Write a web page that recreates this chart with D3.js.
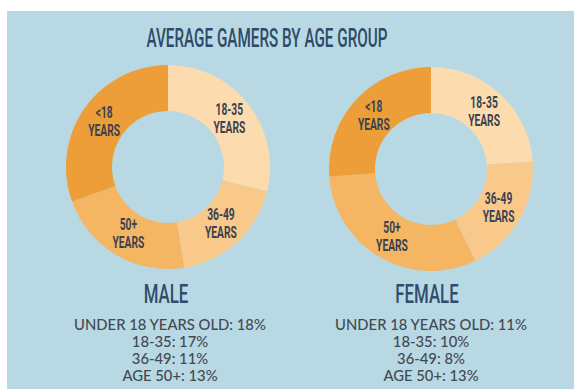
<!DOCTYPE html>
<html>
<head>
<meta charset="utf-8">
<script src="https://cdn.jsdelivr.net/npm/d3@7"></script>
<style>
  html, body { margin: 0; padding: 0; background: #ffffff; }
  svg { display: block; }
</style>
</head>
<body>
<svg id="chart" width="574" height="389"></svg>
<script>
// Age groups, drawn clockwise from 12 o'clock
const ageGroups = ["18-35", "36-49", "50+", "<18"];
const sliceLines = [["18-35", "YEARS"], ["36-49", "YEARS"], ["50+", "YEARS"], ["<18", "YEARS"]];
const maleValues = [17, 11, 13, 18];
const femaleValues = [10, 8, 13, 11];

const summaryLabels = ["UNDER 18 YEARS OLD", "18-35", "36-49", "AGE 50+"];
const summaryOrder = [3, 0, 1, 2]; // index into ageGroups for each summary line

const titleText = "AVERAGE GAMERS BY AGE GROUP";
const panels = [
  { name: "MALE", values: maleValues },
  { name: "FEMALE", values: femaleValues }
];

const W = 574, H = 389;
const svg = d3.select("#chart");

// background panel
svg.append("rect")
  .attr("x", 7).attr("y", 11)
  .attr("width", W - 7).attr("height", H - 11)
  .attr("fill", "#b8d9e4");

// title
svg.append("text")
  .attr("x", 267).attr("y", 47)
  .attr("text-anchor", "middle")
  .attr("font-family", "Roboto, 'DejaVu Sans', sans-serif")
  .attr("font-size", 26)
  .attr("font-weight", 500)
  .attr("fill", "#2f4a68")
  .attr("textLength", 241)
  .attr("lengthAdjust", "spacingAndGlyphs")
  .text(titleText);

const color = d3.scaleOrdinal()
  .domain(ageGroups)
  .range(["#fcdcae", "#f8c98a", "#f4b663", "#ee9e39"]);

const pie = d3.pie().sort(null).value(d => d.value);
const outerR = 102, innerR = 56, labelR = 78;
const arc = d3.arc().innerRadius(innerR).outerRadius(outerR);
const labelArc = d3.arc().innerRadius(labelR).outerRadius(labelR);

const centers = [{ x: 168, y: 167, tx: 170 }, { x: 431, y: 169, tx: 431 }];

panels.forEach((p, i) => {
  const c = centers[i];
  const data = ageGroups.map((g, k) => ({ group: g, value: p.values[k], lines: sliceLines[k] }));
  const g = svg.append("g").attr("transform", `translate(${c.x},${c.y})`);
  const arcs = pie(data);

  g.selectAll("path.slice")
    .data(arcs)
    .join("path")
    .attr("class", "slice")
    .attr("d", arc)
    .attr("fill", d => color(d.data.group));

  const lab = g.selectAll("g.lab")
    .data(arcs)
    .join("g")
    .attr("class", "lab")
    .attr("transform", d => {
      const [x, y] = labelArc.centroid(d);
      return `translate(${x},${y}) scale(0.64,1)`;
    });
  lab.selectAll("text")
    .data(d => d.data.lines)
    .join("text")
    .attr("text-anchor", "middle")
    .attr("y", (d, k) => k === 0 ? -4 : 14)
    .attr("font-family", "Roboto, 'DejaVu Sans', sans-serif")
    .attr("font-size", 16)
    .attr("font-weight", 700)
    .attr("fill", "#3a4150")
    .text(d => d);

  // panel heading
  svg.append("g")
    .attr("transform", `translate(${c.tx - 4},303) scale(0.66,1)`)
    .append("text")
    .attr("text-anchor", "middle")
    .attr("font-family", "Roboto, 'DejaVu Sans', sans-serif")
    .attr("font-size", 25.5)
    .attr("font-weight", 500)
    .attr("fill", "#2f4d6d")
    .text(p.name);

  // summary lines
  summaryOrder.forEach((k, j) => {
    svg.append("text")
      .attr("x", c.tx).attr("y", 330 + j * 17)
      .attr("text-anchor", "middle")
      .attr("font-family", "Lato, 'Open Sans', sans-serif")
      .attr("font-size", 14.8)
      .attr("font-weight", 500)
      .attr("fill", "#434953")
      .text(`${summaryLabels[j]}: ${p.values[k]}%`);
  });
});
</script>
</body>
</html>
